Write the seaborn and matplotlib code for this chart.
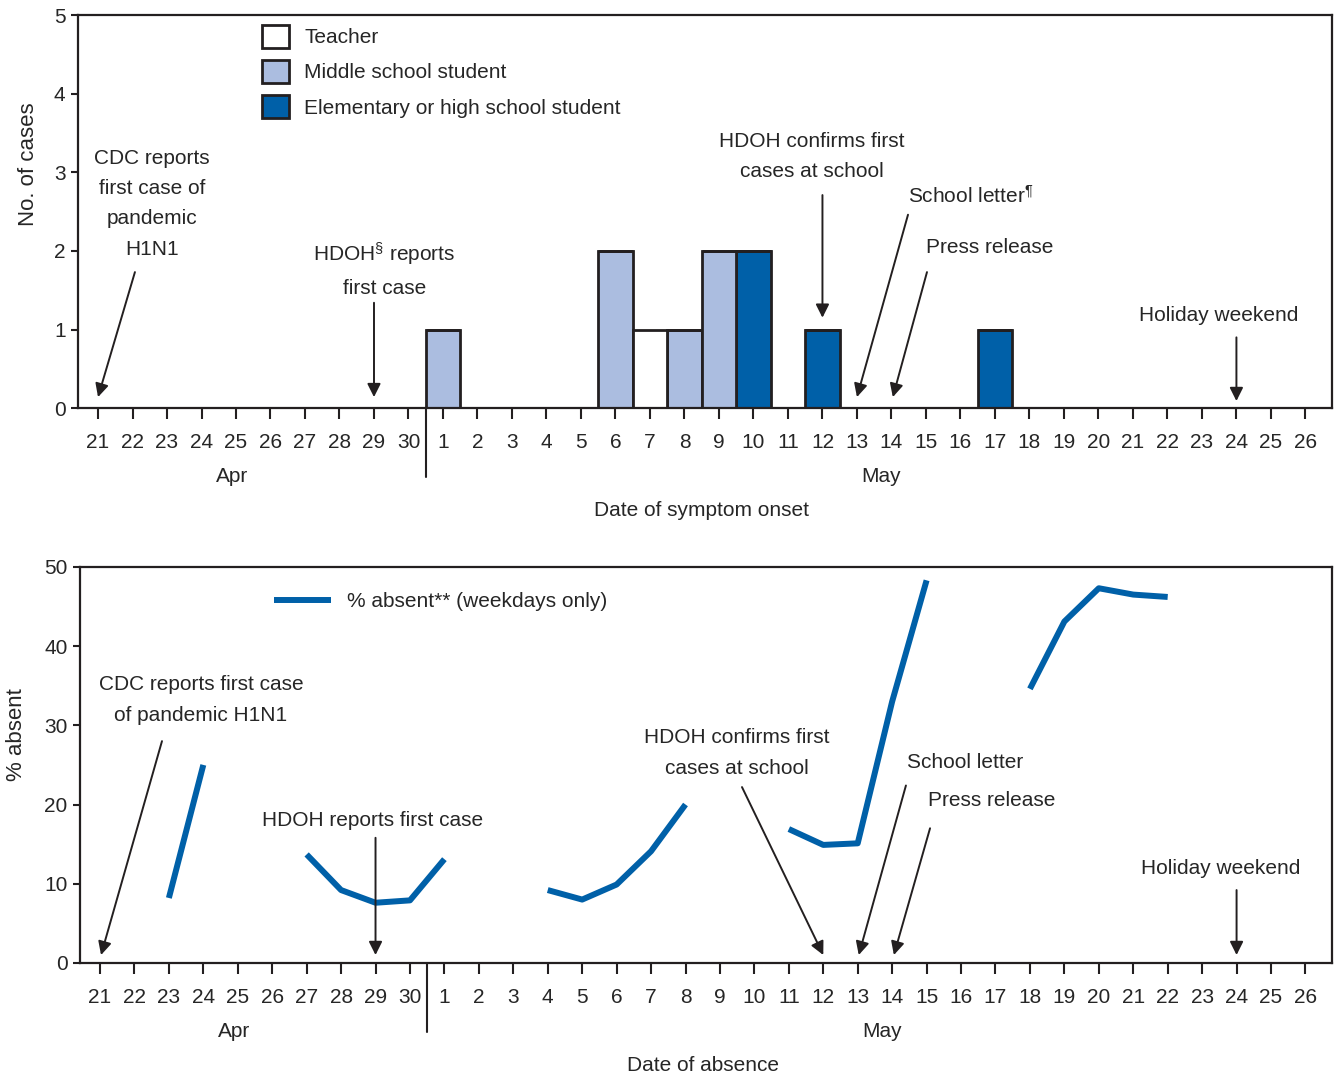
import pandas as pd
import numpy as np
import matplotlib
matplotlib.use("Agg")
import matplotlib.pyplot as plt
import matplotlib.transforms as mtransforms
from matplotlib.patches import Patch
from matplotlib.lines import Line2D
import seaborn as sns

sns.set_theme(style="ticks")
plt.rcParams["font.family"] = ["Liberation Sans", "DejaVu Sans"]
plt.rcParams["mathtext.fontset"] = "custom"
plt.rcParams["mathtext.rm"] = "Liberation Sans"
plt.rcParams["mathtext.default"] = "rm"

# ----- donnees -----
debut = pd.Timestamp("2009-04-21")
fin = pd.Timestamp("2009-05-26")
jours = pd.date_range(debut, fin)
etiquettes = [str(d.day) for d in jours]

case_date = ["2009-05-01", "2009-05-06", "2009-05-07", "2009-05-08",
             "2009-05-09", "2009-05-10", "2009-05-12", "2009-05-17"]
case_group = ["Middle school student", "Middle school student", "Teacher",
              "Middle school student", "Middle school student",
              "Elementary or high school student",
              "Elementary or high school student",
              "Elementary or high school student"]
case_count = [1, 2, 1, 1, 2, 2, 1, 1]

groupes = ["Teacher", "Middle school student", "Elementary or high school student"]
couleurs = ["#ffffff", "#abbde0", "#0060a8"]

absent_date = ["2009-04-23", "2009-04-24",
               "2009-04-27", "2009-04-28", "2009-04-29", "2009-04-30", "2009-05-01",
               "2009-05-04", "2009-05-05", "2009-05-06", "2009-05-07", "2009-05-08",
               "2009-05-11", "2009-05-12", "2009-05-13", "2009-05-14", "2009-05-15",
               "2009-05-18", "2009-05-19", "2009-05-20", "2009-05-21", "2009-05-22"]
absent_pct = [8.2, 25.0,
              13.7, 9.2, 7.6, 7.9, 13.1,
              9.2, 8.0, 9.9, 14.1, 20.0,
              16.9, 14.9, 15.1, 33.0, 48.3,
              34.6, 43.1, 47.3, 46.5, 46.2]

cases = pd.DataFrame({"date": pd.to_datetime(case_date), "groupe": case_group,
                      "n": case_count})
cases["x"] = (cases["date"] - debut).dt.days

absent = pd.DataFrame({"date": pd.to_datetime(absent_date), "pct": absent_pct})
absent["x"] = (absent["date"] - debut).dt.days
absent["semaine"] = absent["date"].dt.isocalendar().week.astype(int)  # trous = week-ends

BLEU = "#0060a8"
NOIR = "#231f20"
FS = 15
LS = 1.75   # interligne des annotations

fig = plt.figure(figsize=(13.38, 10.74), dpi=100)
ax1 = fig.add_axes([0.0583, 0.620, 0.9372, 0.366])
ax2 = fig.add_axes([0.0598, 0.1034, 0.9357, 0.3688])

x_lim = (-0.58, 35.77)
fleche = dict(arrowstyle="-|>", color=NOIR, lw=1.4, mutation_scale=20,
              shrinkA=0, shrinkB=0)


def axe_dates(ax, titre):
    ax.set_xlim(*x_lim)
    ax.set_xticks(np.arange(len(jours)))
    ax.set_xticklabels(etiquettes)
    ax.tick_params(axis="x", length=8, width=1.5, pad=10, labelsize=FS, color=NOIR)
    ax.tick_params(axis="y", length=5, width=1.5, pad=4, labelsize=FS, color=NOIR)
    for s in ax.spines.values():
        s.set_linewidth(1.6)
        s.set_color(NOIR)
    trans = mtransforms.blended_transform_factory(ax.transData, ax.transAxes)
    # separation avril / mai
    ax.add_line(Line2D([9.5, 9.5], [0, -0.175], transform=trans, color=NOIR,
                       lw=1.5, clip_on=False))
    ax.text(3.9, -0.173, "Apr", transform=trans, ha="center", va="center", fontsize=FS)
    ax.text(22.7, -0.173, "May", transform=trans, ha="center", va="center", fontsize=FS)
    ax.text(17.5, -0.26, titre, transform=trans, ha="center", va="center", fontsize=FS)
    ax.set_xlabel("")


# ===== Panneau 1 : cas par date de debut des symptomes =====
sns.histplot(data=cases, x="x", weights="n", hue="groupe", hue_order=groupes,
             palette=couleurs, multiple="stack", discrete=True, shrink=1,
             edgecolor=NOIR, linewidth=2, alpha=1, legend=False, ax=ax1)
ax1.set_ylim(0, 5)
ax1.set_yticks(range(6))
ax1.set_ylabel("No. of cases", fontsize=FS + 1)
ax1.yaxis.set_label_coords(-0.031, 0.62)
axe_dates(ax1, "Date of symptom onset")

poignees = [Patch(facecolor=c, edgecolor=NOIR, linewidth=2) for c in couleurs]
ax1.legend(poignees, groupes, loc="upper left", bbox_to_anchor=(0.147, 0.975),
           frameon=False, fontsize=FS, handlelength=1.3, handleheight=1.3,
           labelspacing=0.6, handletextpad=0.7, borderpad=0, borderaxespad=0)

ax1.text(1.57, 2.6, "CDC reports\nfirst case of\npandemic\nH1N1", ha="center",
         va="center", fontsize=FS, linespacing=LS)
ax1.annotate("", xy=(0, 0.14), xytext=(1.07, 1.73), arrowprops=fleche)
ax1.text(8.3, 1.76, "HDOH$^{\\S}$ reports\nfirst case", ha="center", va="center",
         fontsize=FS, linespacing=LS)
ax1.annotate("", xy=(8, 0.14), xytext=(8, 1.34), arrowprops=fleche)
ax1.text(20.7, 3.2, "HDOH confirms first\ncases at school", ha="center", va="center",
         fontsize=FS, linespacing=LS)
ax1.annotate("", xy=(21, 1.15), xytext=(21, 2.71), arrowprops=fleche)
ax1.text(25.3, 2.7, "School letter$^{\\P}$", ha="center", va="center", fontsize=FS)
ax1.annotate("", xy=(22, 0.14), xytext=(23.48, 2.46), arrowprops=fleche)
ax1.text(25.85, 2.04, "Press release", ha="center", va="center", fontsize=FS)
ax1.annotate("", xy=(23.04, 0.14), xytext=(24.03, 1.73), arrowprops=fleche)
ax1.text(32.5, 1.18, "Holiday weekend", ha="center", va="center", fontsize=FS)
ax1.annotate("", xy=(33, 0.09), xytext=(33, 0.9), arrowprops=fleche)

# ===== Panneau 2 : absenteisme =====
sns.lineplot(data=absent, x="x", y="pct", units="semaine", estimator=None,
             color=BLEU, lw=4.3, solid_capstyle="butt", legend=False, ax=ax2)
ax2.set_ylim(0, 50)
ax2.set_yticks(range(0, 51, 10))
ax2.set_ylabel("% absent", fontsize=FS + 1)
ax2.yaxis.set_label_coords(-0.042, 0.576)
axe_dates(ax2, "Date of absence")

ax2.legend([Line2D([0], [0], color=BLEU, lw=4.3, solid_capstyle="butt")],
           ["% absent** (weekdays only)"], loc="center left",
           bbox_to_anchor=(0.155, 0.912), frameon=False, fontsize=FS,
           handlelength=2.75, handletextpad=0.75, borderpad=0, borderaxespad=0)

ax2.text(2.93, 33.2, "CDC reports first case\nof pandemic H1N1", ha="center",
         va="center", fontsize=FS, linespacing=LS)
ax2.annotate("", xy=(0.03, 1.0), xytext=(1.8, 28.0), arrowprops=fleche)
ax2.text(7.91, 18.0, "HDOH reports first case", ha="center", va="center", fontsize=FS)
ax2.annotate("", xy=(8, 1.0), xytext=(8, 15.8), arrowprops=fleche)
ax2.text(18.5, 26.5, "HDOH confirms first\ncases at school", ha="center",
         va="center", fontsize=FS, linespacing=LS)
ax2.annotate("", xy=(21, 1.0), xytext=(18.64, 22.2), arrowprops=fleche)
ax2.text(25.13, 25.3, "School letter", ha="center", va="center", fontsize=FS)
ax2.annotate("", xy=(22.03, 1.0), xytext=(23.4, 22.4), arrowprops=fleche)
ax2.text(25.9, 20.5, "Press release", ha="center", va="center", fontsize=FS)
ax2.annotate("", xy=(23.05, 1.0), xytext=(24.1, 17.0), arrowprops=fleche)
ax2.text(32.55, 11.9, "Holiday weekend", ha="center", va="center", fontsize=FS)
ax2.annotate("", xy=(33, 1.0), xytext=(33, 9.2), arrowprops=fleche)

fig.savefig("out.png", dpi=100)
